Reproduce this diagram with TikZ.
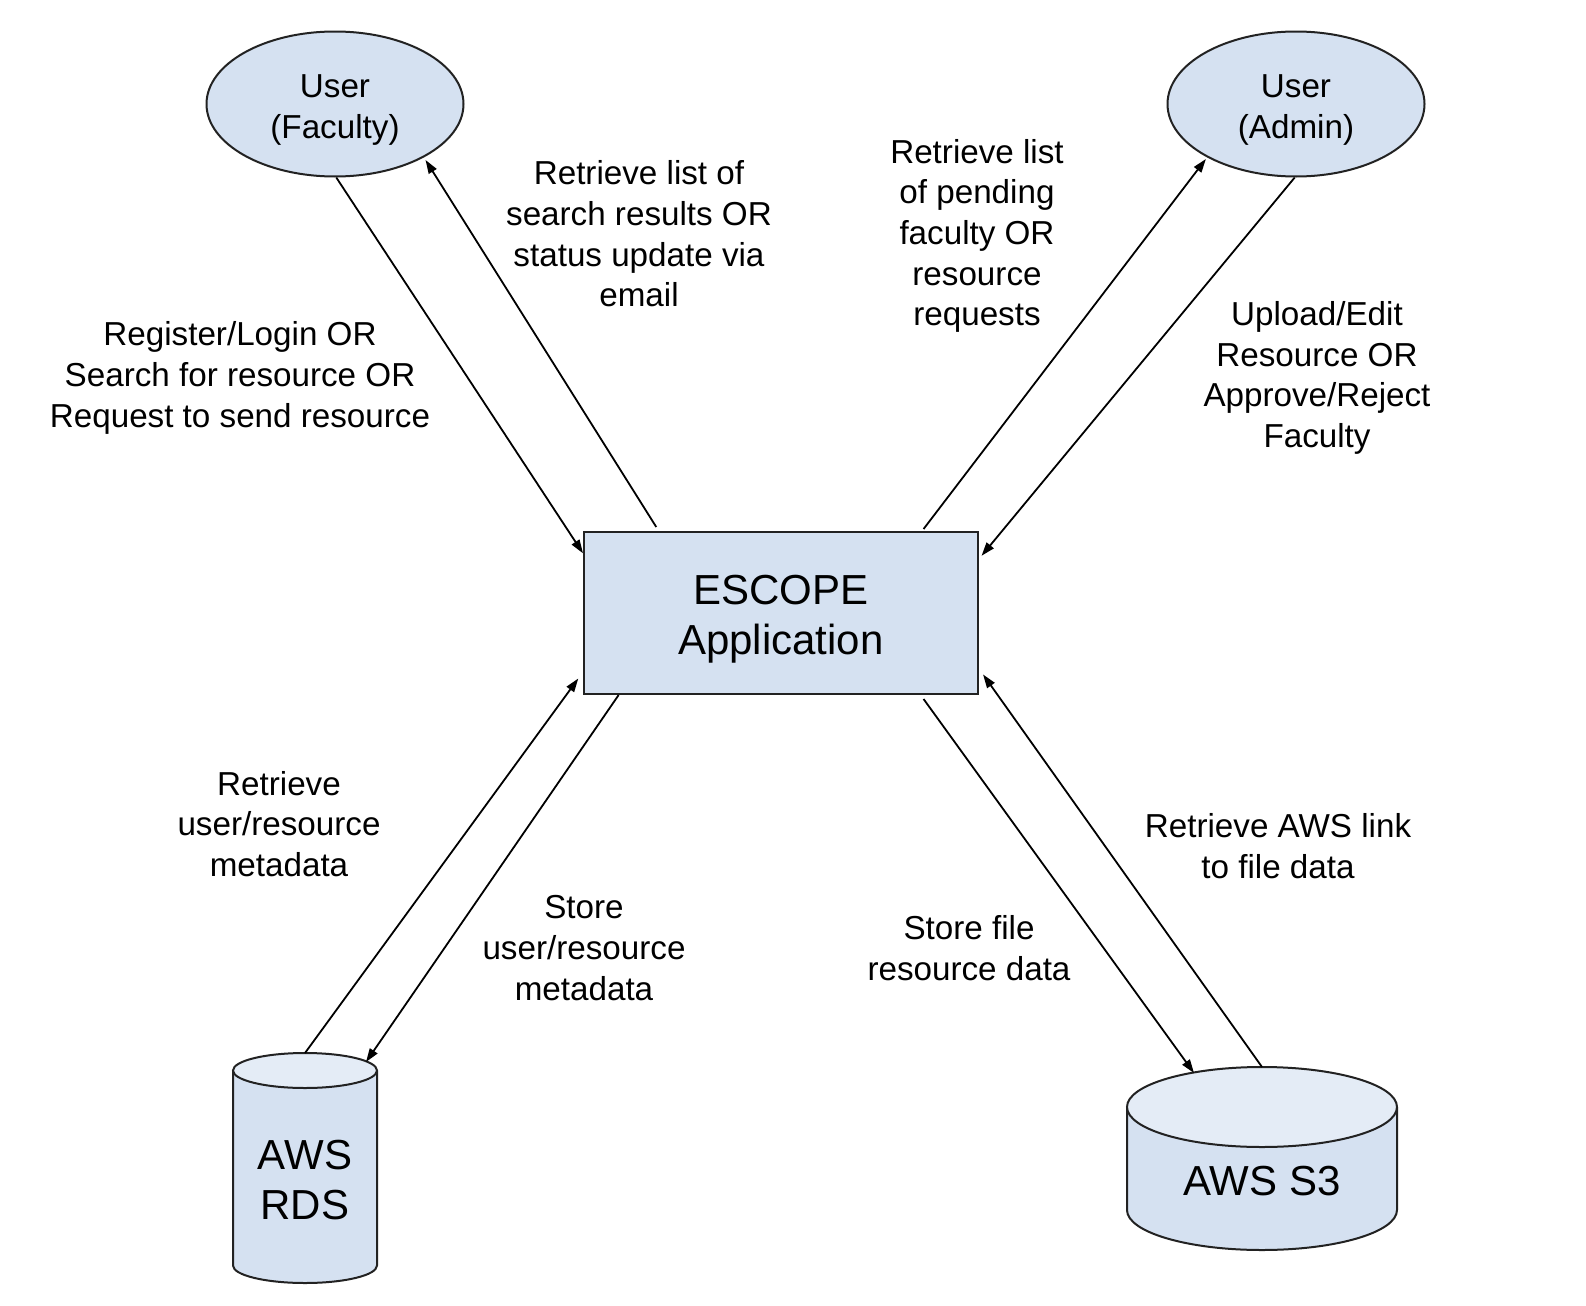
\documentclass[tikz,border=0pt]{standalone}
\usepackage{fontspec}
\setmainfont{Liberation Sans}
\usetikzlibrary{shapes.geometric,arrows.meta,calc}
\definecolor{boxfill}{HTML}{D5E1F1}
\definecolor{topfill}{HTML}{E4ECF6}
\definecolor{edge}{HTML}{222222}
\begin{document}
\begin{tikzpicture}[x=0.5pt,y=0.5pt,
  user/.style={ellipse,draw=edge,line width=1pt,fill=boxfill,minimum width=128.5pt,minimum height=72.5pt,inner sep=0pt},
  appbox/.style={rectangle,draw=edge,line width=1pt,fill=boxfill,minimum width=197pt,minimum height=81pt,inner sep=0pt},
  big/.style={inner sep=0pt,align=center,font=\fontsize{21}{25}\selectfont},
  lbl/.style={inner sep=0pt,align=center,font=\fontsize{16.6}{20.3}\selectfont},
  conn/.style={draw=black,line width=0.9pt,-{Triangle[length=6.8pt,width=4.5pt]}},
  cylbody/.style={fill=boxfill,draw=edge,line width=1pt},
  cyltop/.style={fill=topfill,draw=edge,line width=1pt}]
\useasboundingbox (0,0) rectangle (1586,-1306);

% users and application
\node[user] (fac) at (335,-104) {};
\node[lbl] (facT) at (335,-110) {User\\(Faculty)};
\node[user] (adm) at (1296,-104) {};
\node[lbl] (admT) at (1296,-110) {User\\(Admin)};
\node[appbox] (app) at (781,-613) {};
\node[big] (appT) at (781,-619) {ESCOPE\\Application};

% AWS RDS cylinder
\fill[boxfill] (233,-1070.5) -- (233,-1265.5) arc[start angle=180,end angle=360,x radius=72,y radius=17.5] -- (377,-1070.5) -- cycle;
\draw[edge,line width=1pt] (233,-1070.5) -- (233,-1265.5) arc[start angle=180,end angle=360,x radius=72,y radius=17.5] -- (377,-1070.5);
\draw[cyltop] (305,-1070.5) ellipse[x radius=72,y radius=17.5];
\node[big] (rds) at (305,-1180) {AWS\\RDS};
\coordinate (rdsA) at (305,-1053);
\coordinate (rdsB) at (366,-1062);

% AWS S3 cylinder
\fill[boxfill] (1127,-1107) -- (1127,-1210) arc[start angle=180,end angle=360,x radius=135,y radius=40] -- (1397,-1107) -- cycle;
\draw[edge,line width=1pt] (1127,-1107) -- (1127,-1210) arc[start angle=180,end angle=360,x radius=135,y radius=40] -- (1397,-1107);
\draw[cyltop] (1262,-1107) ellipse[x radius=135,y radius=40];
\node[big] (s3) at (1262,-1181) {AWS S3};
\coordinate (s3A) at (1194,-1073);
\coordinate (s3B) at (1262,-1067);

% connectors
\draw[conn] (fac.-89) -- ($(app.north west)!0.136!(app.south west)$);
\draw[conn,shorten >=1.5pt] ($(app.north west)!0.185!(app.north east)+(0,4)$) -- (fac.-31);
\draw[conn,shorten >=1pt] ($(app.north west)!0.86!(app.north east)+(0,2)$) -- (adm.-149);
\draw[conn,shorten >=2pt] (adm.-91) -- ($(app.north east)!0.17!(app.south east)$);
\draw[conn,shorten >=4pt] (rdsA) -- ($(app.north west)!0.86!(app.south west)$);
\draw[conn] ($(app.south west)!0.09!(app.south east)$) -- (rdsB);
\draw[conn] ($(app.south west)!0.86!(app.south east)+(0,-4)$) -- (s3A);
\draw[conn,shorten >=3.5pt] (s3B) -- ($(app.north east)!0.84!(app.south east)$);

% labels
\node[lbl] (l1) at (240,-378) {Register/Login OR\\Search for resource OR\\Request to send resource};
\node[lbl] (l2) at (639,-234) {Retrieve list of\\search results OR\\status update via\\email};
\node[lbl] (l3) at (977,-236) {Retrieve list\\of pending\\faculty OR\\resource\\requests};
\node[lbl] (l4) at (1317,-378) {Upload/Edit\\Resource OR\\Approve/Reject\\Faculty};
\node[lbl] (l5) at (279,-824) {Retrieve\\user/resource\\metadata};
\node[lbl] (l6) at (584,-948) {Store\\user/resource\\metadata};
\node[lbl] (l7) at (969,-948) {Store file\\resource data};
\node[lbl] (l8) at (1278,-846) {Retrieve AWS link\\to file data};
\end{tikzpicture}
\end{document}
